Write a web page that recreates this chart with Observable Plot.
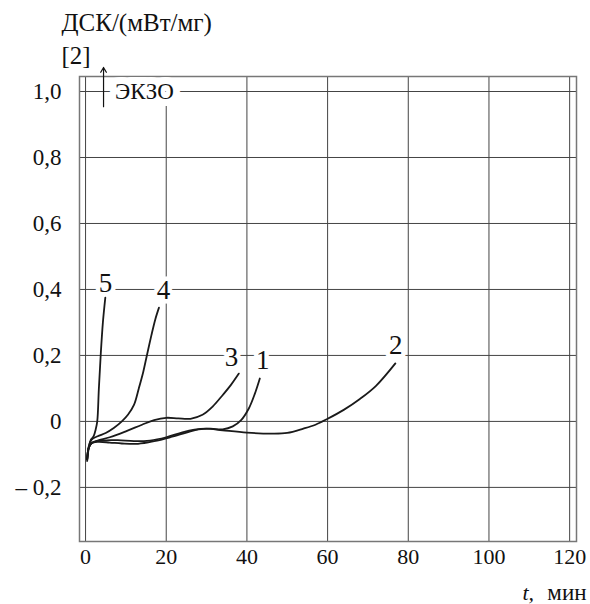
<!DOCTYPE html>
<html>
<head>
<meta charset="utf-8">
<script src="https://cdn.jsdelivr.net/npm/d3@7"></script>
<script src="https://cdn.jsdelivr.net/npm/@observablehq/plot@0.6"></script>
<style>
  html, body { margin: 0; padding: 0; background: #fff; }
  svg { display: block; }
</style>
</head>
<body>
<div id="chart"></div>
<script>
// ---- data (t, min ; DSC, mW/mg) ----
const curve1 = [[0.4,-0.115],[0.8,-0.08],[1.5,-0.066],[3,-0.062],[6,-0.064],[9,-0.067],[13,-0.068],[17,-0.06],[21,-0.048],[25,-0.034],[28,-0.024],[31,-0.022],[34,-0.024],[36.5,-0.015],[38.5,0.003],[40.5,0.04],[42,0.085],[43.2,0.13]];
const curve2 = [[0.4,-0.115],[0.8,-0.08],[1.5,-0.066],[4,-0.058],[8,-0.057],[12,-0.06],[16,-0.058],[20,-0.048],[24,-0.033],[27,-0.025],[30,-0.022],[34,-0.027],[40,-0.034],[46,-0.037],[50,-0.035],[54,-0.022],[57,-0.01],[60,0.008],[64,0.035],[68,0.068],[72,0.108],[76.8,0.176]];
const curve3 = [[0.4,-0.115],[0.8,-0.08],[1.5,-0.065],[3,-0.058],[6,-0.048],[10,-0.03],[14,-0.01],[17,0.004],[20,0.011],[23,0.009],[26,0.008],[29,0.02],[31.5,0.045],[34,0.08],[36,0.11],[38,0.145]];
const curve4 = [[0.4,-0.115],[0.8,-0.075],[1.5,-0.055],[3,-0.045],[5,-0.035],[7,-0.02],[9,0.0],[10.5,0.02],[12,0.05],[13.2,0.1],[14.3,0.15],[15.2,0.2],[16.3,0.26],[17.3,0.31],[18.2,0.345]];
const curve5 = [[0.4,-0.12],[0.8,-0.08],[1.3,-0.056],[2,-0.045],[2.5,-0.025],[2.9,0.0],[3.3,0.1],[3.75,0.2],[4.3,0.3],[4.9,0.375]];

const curveNames = ["1","2","3","4","5"];
const curveData = [curve1, curve2, curve3, curve4, curve5];

const labelText = ["5","4","3","1","2"];
const labelT    = [4.96, 19.3, 36.2, 43.9, 76.9];
const labelDSC  = [0.419, 0.398, 0.195, 0.185, 0.231];

const xTicks = [0, 20, 40, 60, 80, 100, 120];
const yTicks = [-0.2, 0, 0.2, 0.4, 0.6, 0.8, 1.0];

const exoText = ["ЭКЗО"];
const exoT = [14.6];
const exoDSC = [1.0];
const arrowT = [4.46];
const arrowFrom = [0.954];
const arrowTo = [1.073];

const titleLines = ["ДСК/(мВт/мг)", "[2]"];
const xLabelItalic = "t,";
const xLabelRest = "мин";

// ---- build tables ----
const lines = curveData.flatMap((c, i) => c.map(([t, v]) => ({curve: curveNames[i], t, v})));
const labels = labelText.map((s, i) => ({s, t: labelT[i], v: labelDSC[i]}));
const exo = exoText.map((s, i) => ({s, t: exoT[i], v: exoDSC[i]}));
const arrows = arrowT.map((t, i) => ({t, v1: arrowFrom[i], v2: arrowTo[i]}));

const FONT = "Liberation Serif, Times New Roman, serif";
const yFmt = d => d === 0 ? "0" : (d < 0 ? "– " : "") + Math.abs(d).toFixed(1).replace(".", ",");

const plot = Plot.plot({
  width: 590,
  height: 604,
  marginLeft: 79,
  marginRight: 14,
  marginTop: 76,
  marginBottom: 63,
  style: {fontFamily: FONT, fontSize: "22px", color: "#111", background: "#fff"},
  x: {domain: [-1.5, 121.7], label: null},
  y: {domain: [-0.364, 1.0455], label: null},
  marks: [
    Plot.gridX(xTicks, {stroke: "#444", strokeOpacity: 1, strokeWidth: 1}),
    Plot.gridY(yTicks, {stroke: "#444", strokeOpacity: 1, strokeWidth: 1}),
    Plot.frame({stroke: "#777", strokeWidth: 1.5}),
    Plot.axisX(xTicks, {tickSize: 0, tickPadding: 7, fontSize: 22, fill: "#111", label: null}),
    Plot.axisY(yTicks, {tickSize: 0, tickPadding: 18, fontSize: 23, fill: "#111", tickFormat: yFmt, label: null}),
    // white halos behind labels (gaps in grid)
    Plot.text(labels, {x: "t", y: "v", text: "s", fontSize: 27, fill: "white", stroke: "white", strokeWidth: 9}),
    Plot.text(exo, {x: "t", y: "v", text: "s", fontSize: 23, fill: "white", stroke: "white", strokeWidth: 14}),
    // curves
    Plot.line(lines, {x: "t", y: "v", z: "curve", stroke: "#1a1a1a", strokeWidth: 1.8, curve: "catmull-rom"}),
    // labels
    Plot.text(labels, {x: "t", y: "v", text: "s", fontSize: 27, fill: "#111"}),
    Plot.text(exo, {x: "t", y: "v", text: "s", fontSize: 23, fill: "#111"}),
    Plot.arrow(arrows, {x1: "t", x2: "t", y1: "v1", y2: "v2", stroke: "#111", strokeWidth: 1.2, headLength: 7, clip: false}),
    // title above the frame
    Plot.text([titleLines[0]], {frameAnchor: "top-left", text: d => d, textAnchor: "start", lineAnchor: "middle", dx: -18, dy: -54, fontSize: 25, fill: "#111"}),
    Plot.text([titleLines[1]], {frameAnchor: "top-left", text: d => d, textAnchor: "start", lineAnchor: "middle", dx: -18, dy: -21, fontSize: 25, fill: "#111"}),
    // x axis label
    Plot.text([xLabelItalic], {frameAnchor: "bottom-right", text: d => d, textAnchor: "start", lineAnchor: "middle", dx: -54, dy: 51, fontSize: 22, fontStyle: "italic", fill: "#111"}),
    Plot.text([xLabelRest], {frameAnchor: "bottom-right", text: d => d, textAnchor: "end", lineAnchor: "middle", dx: 10, dy: 51, fontSize: 23, fill: "#111"})
  ]
});
document.getElementById("chart").appendChild(plot);
</script>
</body>
</html>
